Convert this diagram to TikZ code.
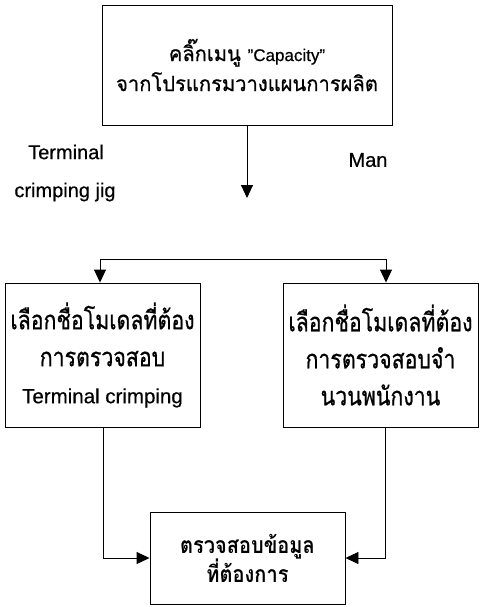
\documentclass[tikz,border=0pt]{standalone}
\usepackage{fontspec}
\setmainfont{Liberation Sans}[FakeBold=0.5]
\newfontfamily\thaifont[Script=Thai,FakeStretch=0.82,FakeBold=0.7]{Loma}
\newfontfamily\thaitop[Script=Thai,FakeStretch=0.96,FakeBold=0.7]{Loma}
\newfontfamily\thaibold[Script=Thai,FakeStretch=0.87]{Loma}
\newcommand\mynolsk{\lineskiplimit=-30pt\relax}
\usetikzlibrary{arrows.meta}
\begin{document}
\begin{tikzpicture}[x=1pt,y=-1pt,
  box/.style={draw, line width=0.9pt, align=center, inner sep=0pt},
  arr/.style={line width=0.9pt, -{Triangle[length=13pt,width=12pt]}},
  conn/.style={line width=0.9pt},
  lbl/.style={font=\fontsize{20}{22}\selectfont, inner sep=0pt}]
\useasboundingbox (0,0) rectangle (480,607);
\node[box, minimum width=290, minimum height=120, font=\thaitop\fontsize{21}{30}\selectfont\mynolsk] (top) at (247,65)
  {คลิ๊กเมนู {\rmfamily\fontsize{17}{30}\selectfont "Capacity"}\\จากโปรแกรมวางแผนการผลิต};
\node[box, minimum width=195, minimum height=144, font=\thaifont\fontsize{26}{37}\selectfont\mynolsk] (left) at (102.5,355)
  {เลือกชื่อโมเดลที่ต้อง\\การตรวจสอบ\\{\rmfamily\fontsize{20.5}{37}\selectfont Terminal crimping}};
\node[box, minimum width=195, minimum height=144, font=\thaifont\fontsize{26}{37}\selectfont\mynolsk] (right) at (380.5,355)
  {เลือกชื่อโมเดลที่ต้อง\\การตรวจสอบจำ\\นวนพนักงาน};
\node[box, minimum width=195, minimum height=92, font=\thaibold\bfseries\fontsize{23}{29}\selectfont\mynolsk] (bottom) at (247.5,558)
  {ตรวจสอบข้อมูล\\ที่ต้องการ};
\node[lbl] (t1) at (66,152) {Terminal};
\node[lbl] (t2) at (65,192) {crimping jig};
\node[lbl] (t3) at (368,160) {Man};
\coordinate (a1) at (247,198);
\draw[arr] (top.south -| a1) -- (a1);
\coordinate (hl) at (100,259);
\coordinate (hr) at (386,259);
\draw[conn] (hl) -- (hr);
\draw[arr] (hl) -- (hl |- left.north);
\draw[arr] (hr) -- (hr |- right.north);
\coordinate (lb) at (103,558);
\coordinate (rb) at (385,558);
\draw[arr] (left.south -| lb) -- (lb) -- (lb -| bottom.west);
\draw[arr] (right.south -| rb) -- (rb) -- (rb -| bottom.east);
\end{tikzpicture}
\end{document}
